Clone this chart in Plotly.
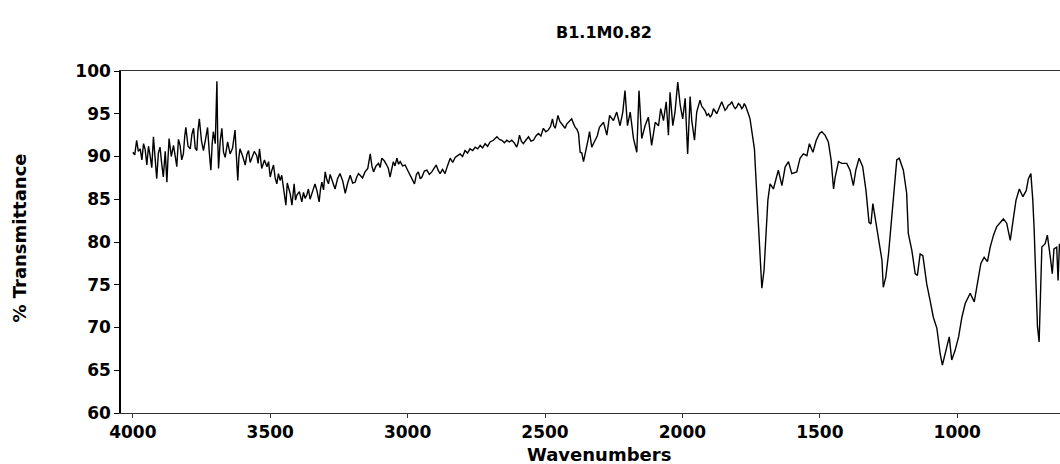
import plotly.graph_objects as go

# FTIR spectrum of sample B1.1M0.82: wavenumber (cm-1) and % transmittance,
# kept as four consecutive spectral regions.

# O-H / N-H stretch region
wn_oh = [
    4000, 3993, 3986, 3980, 3973, 3967, 3961, 3955, 3949, 3943,
    3937, 3931, 3925, 3919, 3913, 3907, 3901, 3895, 3889, 3882,
    3876, 3872, 3868, 3860, 3852, 3846, 3840, 3834, 3828, 3822,
    3816, 3811, 3807, 3799, 3791, 3785, 3779, 3773, 3767, 3763,
    3758, 3750, 3743, 3735, 3728, 3722, 3716, 3711, 3707, 3700,
    3694, 3691, 3688, 3682, 3676, 3670, 3664, 3655, 3646, 3637,
    3628, 3623, 3618, 3614, 3610, 3600, 3591, 3585, 3579, 3573,
    3567, 3558, 3549, 3544, 3539, 3535, 3531, 3521, 3512, 3506,
    3500, 3494, 3488, 3482, 3476, 3470, 3464, 3458, 3452, 3448,
    3443, 3438, 3434, 3427, 3421, 3417, 3413, 3408, 3403, 3394,
    3385, 3379, 3373, 3367, 3361, 3355, 3349, 3343, 3337, 3330,
    3322, 3317, 3312, 3306, 3300, 3294, 3288, 3282, 3276, 3270,
    3264, 3255, 3246, 3236, 3227, 3218, 3209, 3200, 3191, 3185,
    3179,
]
t_oh = [
    90.5, 90.2, 91.9, 90.6, 90.9, 89.6, 91.5, 90.8, 89.0, 91.2,
    90.1, 88.7, 92.3, 89.5, 87.4, 90.4, 91.1, 89.2, 87.6, 90.6,
    87.0, 89.8, 92.1, 90.0, 91.3, 90.1, 88.8, 92.0, 91.3, 89.6,
    90.3, 92.4, 93.4, 91.2, 90.9, 92.6, 93.3, 91.0, 90.7, 93.0,
    94.4, 91.8, 90.7, 92.1, 93.4, 90.6, 88.4, 91.6, 92.9, 91.5,
    98.8, 92.0, 88.6, 91.8, 93.3, 90.5, 89.9, 91.7, 90.3, 91.0,
    93.1, 90.0, 87.2, 89.9, 90.9, 90.0, 89.0, 90.2, 90.7, 89.3,
    89.8, 90.6, 90.1, 89.2, 90.9, 89.7, 88.6, 89.6, 88.8, 89.4,
    87.6, 88.4, 89.0, 87.5, 86.8, 88.0, 87.2, 87.8, 86.6, 85.8,
    84.3, 86.9, 86.4, 85.6, 84.3, 85.3, 86.8, 84.9, 85.5, 85.9,
    84.7, 85.8, 85.1, 85.5, 86.2, 85.0, 85.7, 86.4, 86.8, 86.0,
    84.7, 86.2, 87.0, 86.1, 88.2, 87.3, 86.8, 87.9, 87.4, 86.8,
    86.2, 87.4, 88.0, 87.1, 85.7, 86.9, 87.8, 86.9, 87.0, 87.6,
    88.0,
]

# C-H stretch to CO2 region
wn_ch = [
    3173, 3164, 3155, 3145, 3136, 3130, 3124, 3115, 3106, 3100,
    3094, 3085, 3076, 3070, 3064, 3058, 3052, 3046, 3039, 3033,
    3027, 3018, 3009, 3000, 2991, 2983, 2975, 2968, 2961, 2954,
    2948, 2939, 2930, 2921, 2912, 2904, 2896, 2889, 2882, 2873,
    2864, 2855, 2845, 2836, 2827, 2818, 2809, 2800, 2791, 2782,
    2773, 2763, 2754, 2745, 2736, 2727, 2718, 2709, 2700, 2688,
    2675, 2666, 2657, 2648, 2639, 2630, 2621, 2612, 2603, 2598,
    2593, 2586, 2579, 2570, 2560, 2551, 2542, 2533, 2524, 2515,
    2506, 2497, 2488, 2480, 2473, 2468, 2463, 2458, 2453, 2446,
    2439, 2433, 2427, 2421, 2415, 2409, 2403, 2397, 2390, 2384,
    2378, 2375, 2372, 2366, 2360, 2354, 2348, 2343, 2338, 2334,
    2330, 2324, 2318, 2310, 2302,
]
t_ch = [
    87.8, 87.5, 88.2, 88.6, 90.3, 88.9, 88.2, 88.9, 89.2, 88.7,
    89.8, 89.5, 89.0, 88.6, 87.6, 88.7, 89.4, 88.9, 89.8, 89.1,
    89.4, 88.9, 89.0, 88.4, 87.8, 87.2, 86.8, 87.9, 88.2, 87.4,
    87.6, 88.3, 88.4, 87.9, 88.2, 88.6, 89.0, 88.4, 88.0, 88.5,
    88.0, 88.9, 89.8, 89.3, 89.9, 90.1, 90.3, 90.0, 90.7, 90.4,
    90.9, 90.7, 91.1, 90.9, 91.3, 91.0, 91.5, 91.2, 91.7, 91.9,
    92.3, 92.0, 91.9, 91.6, 91.9, 91.7, 91.9, 91.6, 91.1, 91.6,
    92.5, 91.8, 91.5, 91.9, 92.3, 91.8, 91.9, 92.4, 92.7, 92.4,
    93.3, 92.9, 93.1, 93.5, 94.4, 93.6, 93.3, 94.0, 94.8, 94.1,
    93.8, 93.6, 93.3, 93.8, 94.0, 94.2, 94.4, 93.9, 93.4, 93.2,
    92.7, 91.5, 90.5, 90.4, 89.4, 90.3, 91.1, 92.0, 92.9, 92.2,
    91.1, 91.5, 91.9, 92.4, 93.4,
]

# Noisy plateau before the carbonyl band
wn_mid = [
    2287, 2275, 2265, 2251, 2239, 2227, 2217, 2209, 2200, 2190,
    2178, 2166, 2158, 2148, 2136, 2124, 2112, 2099, 2087, 2079,
    2069, 2059, 2051, 2045, 2035, 2027, 2017, 2008, 1999, 1990,
    1981, 1972, 1966, 1956, 1948, 1936, 1930, 1923, 1917, 1911,
    1905, 1899, 1893, 1887, 1881, 1875, 1866, 1857, 1851, 1845,
    1839, 1833, 1827, 1820, 1814, 1808, 1802, 1796, 1790, 1784,
    1779, 1775, 1770, 1766, 1760, 1754,
]
t_mid = [
    94.0, 92.5, 94.8, 94.2, 95.2, 93.6, 95.2, 97.7, 93.6, 95.2,
    92.1, 90.5, 97.7, 92.1, 93.6, 94.6, 91.3, 94.0, 93.6, 95.6,
    94.2, 96.4, 92.5, 97.5, 93.6, 95.2, 98.7, 96.0, 94.4, 96.8,
    90.3, 97.0, 94.2, 91.9, 95.2, 96.6, 95.9, 95.6, 95.3, 94.8,
    95.0, 94.6, 94.9, 95.6, 95.3, 95.0, 95.7, 96.4, 95.9, 95.4,
    95.6, 96.0, 96.1, 96.4, 95.9, 95.6, 95.8, 96.2, 96.0, 95.6,
    95.8, 96.2, 95.9, 95.4, 95.0, 94.4,
]

# Fingerprint region
wn_fp = [
    1744, 1738, 1733, 1729, 1720, 1711, 1703, 1696, 1689, 1681,
    1669, 1651, 1638, 1626, 1614, 1602, 1584, 1572, 1560, 1547,
    1538, 1525, 1513, 1501, 1493, 1481, 1469, 1459, 1450, 1444,
    1432, 1420, 1402, 1390, 1378, 1369, 1357, 1344, 1332, 1321,
    1314, 1307, 1299, 1287, 1274, 1269, 1260, 1250, 1238, 1226,
    1220, 1211, 1196, 1184, 1178, 1165, 1153, 1145, 1135, 1125,
    1111, 1099, 1087, 1074, 1062, 1054, 1042, 1029, 1020, 1008,
    995, 983, 971, 953, 938, 926, 914, 902, 890, 880,
    868, 856, 844, 832, 820, 807, 795, 786, 774, 761,
    749, 741, 732, 725, 720, 714, 708, 702, 696, 692,
    680, 672, 662, 654, 648, 638, 633, 628,
]
t_fp = [
    92.4, 90.9, 87.8, 85.5, 79.0, 74.6, 76.7, 81.0, 84.9, 86.8,
    86.2, 88.4, 86.6, 88.8, 89.4, 88.0, 88.2, 89.8, 90.3, 90.1,
    91.5, 90.5, 91.9, 92.7, 92.9, 92.5, 91.7, 89.6, 86.2, 87.6,
    89.4, 89.2, 89.2, 88.4, 86.6, 88.4, 89.8, 88.8, 86.0, 82.3,
    82.1, 84.5, 82.9, 81.0, 77.9, 74.7, 75.9, 78.6, 82.9, 87.8,
    89.6, 89.8, 88.4, 85.7, 81.0, 79.0, 76.3, 76.1, 78.6, 78.4,
    75.1, 73.2, 71.2, 69.9, 66.9, 65.6, 67.3, 68.9, 66.2, 67.3,
    68.9, 71.2, 72.8, 74.0, 73.0, 75.1, 77.5, 78.2, 77.7, 79.4,
    80.8, 81.8, 82.2, 82.7, 82.2, 80.2, 82.9, 84.9, 86.2, 85.3,
    86.0, 87.4, 88.0, 84.9, 81.4, 74.7, 70.1, 68.3, 74.7, 79.4,
    79.8, 80.8, 78.4, 76.3, 79.2, 79.4, 75.5, 79.8,
]

x_ticks = [4000, 3500, 3000, 2500, 2000, 1500, 1000]
y_ticks = [60, 65, 70, 75, 80, 85, 90, 95, 100]

wavenumber = wn_oh + wn_ch + wn_mid + wn_fp
transmittance = t_oh + t_ch + t_mid + t_fp

FONT = "DejaVu Sans"

fig = go.Figure()
fig.add_trace(go.Scatter(
    x=wavenumber, y=transmittance, mode="lines",
    line=dict(color="black", width=1.4),
    showlegend=False, hoverinfo="x+y",
))

fig.update_layout(
    width=1060, height=464,
    margin=dict(l=121, r=0, t=71, b=51),
    paper_bgcolor="white", plot_bgcolor="white",
    title=dict(
        text="B1.1M0.82", x=604 / 1060, xref="container", xanchor="center",
        y=1 - 32 / 464, yref="container", yanchor="middle",
        font=dict(family=FONT, size=16, color="black", weight="bold"),
    ),
    xaxis=dict(
        range=[4043, 626], tickvals=x_ticks,
        showgrid=False, zeroline=False,
        showline=True, linecolor="#333", linewidth=1, mirror=True,
        ticks="outside", ticklen=4, tickwidth=1, tickcolor="#333",
        ticklabelstandoff=0,
        tickfont=dict(family=FONT, size=17, color="black", weight="bold"),
    ),
    yaxis=dict(
        range=[60, 100], tickvals=y_ticks,
        showgrid=False, zeroline=False,
        showline=True, linecolor="black", linewidth=1.5,
        ticks="outside", ticklen=5, tickwidth=1.2, tickcolor="black",
        tickfont=dict(family=FONT, size=17, color="black", weight="bold"),
    ),
    annotations=[
        dict(text="Wavenumbers", xref="paper", yref="paper",
             x=(599 - 121) / 939, y=(413 - 454) / 342,
             xanchor="center", yanchor="middle", showarrow=False,
             font=dict(family=FONT, size=18, color="black", weight="bold")),
        dict(text="% Transmittance", xref="paper", yref="paper",
             x=(20 - 121) / 939, y=0.51, textangle=-90,
             xanchor="center", yanchor="middle", showarrow=False,
             font=dict(family=FONT, size=18, color="black", weight="bold")),
    ],
)

fig.write_html("out.html")
